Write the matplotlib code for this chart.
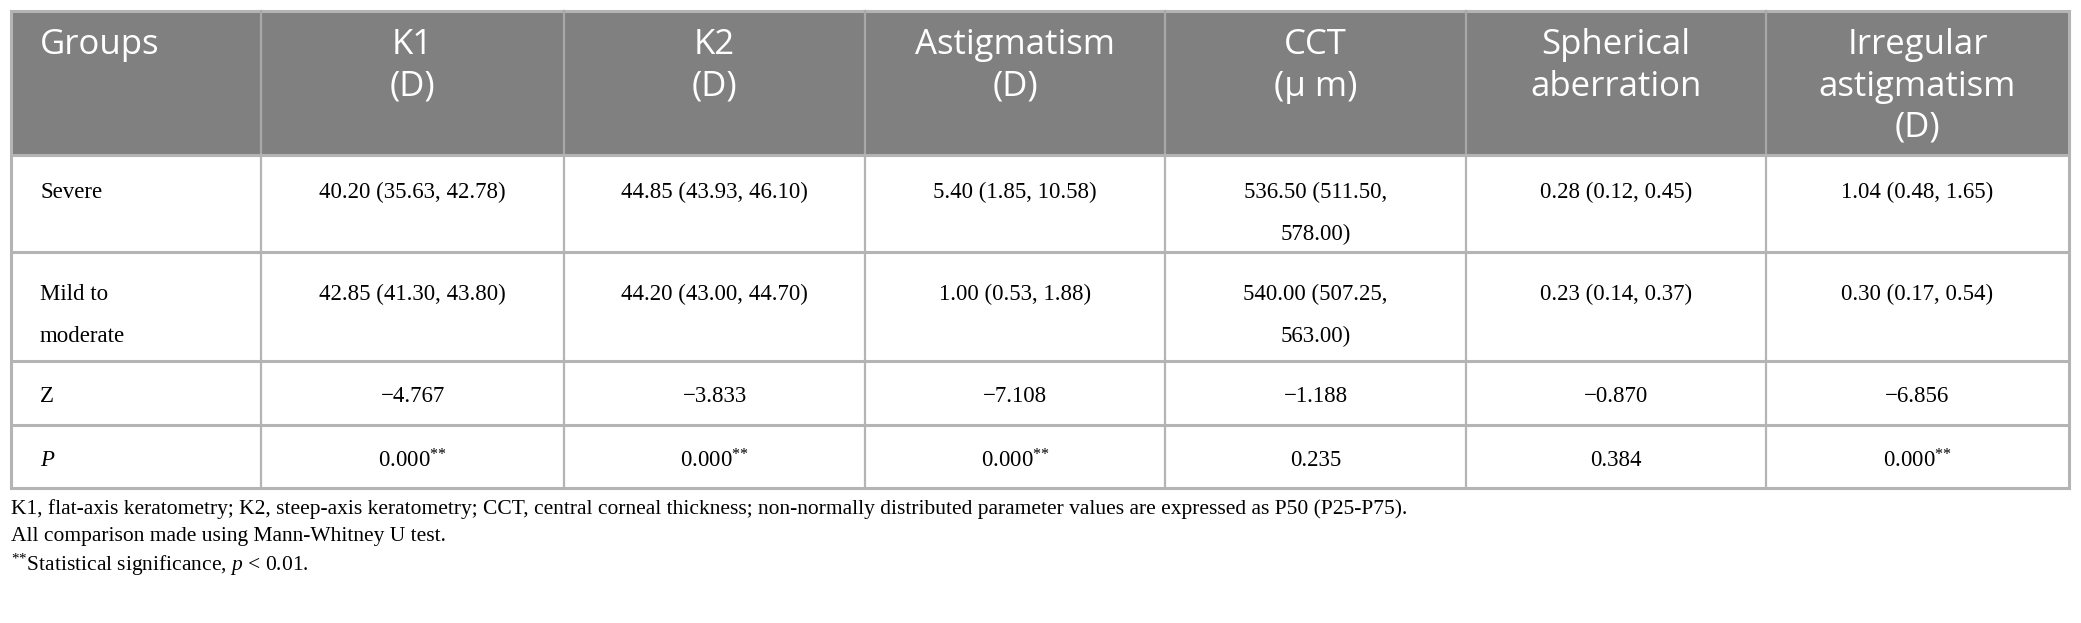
import matplotlib
matplotlib.use("Agg")
import matplotlib.pyplot as plt
from matplotlib.patches import Rectangle

plt.rcParams['mathtext.fontset'] = 'custom'
plt.rcParams['mathtext.rm'] = 'Liberation Serif'
plt.rcParams['mathtext.it'] = 'Liberation Serif:italic'

# table contents
headers = ["Groups", "K1\n(D)", "K2\n(D)", "Astigmatism\n(D)", "CCT\n(\u03bc m)",
           "Spherical\naberration", "Irregular\nastigmatism\n(D)"]
groups = ["Severe", "Mild to\nmoderate", "Z", "$P$"]
severe = ["40.20 (35.63, 42.78)", "44.85 (43.93, 46.10)", "5.40 (1.85, 10.58)",
          "536.50 (511.50,\n578.00)", "0.28 (0.12, 0.45)", "1.04 (0.48, 1.65)"]
mild = ["42.85 (41.30, 43.80)", "44.20 (43.00, 44.70)", "1.00 (0.53, 1.88)",
        "540.00 (507.25,\n563.00)", "0.23 (0.14, 0.37)", "0.30 (0.17, 0.54)"]
z_vals = ["\u22124.767", "\u22123.833", "\u22127.108", "\u22121.188", "\u22120.870", "\u22126.856"]
sig = "$^{{*}{*}}$"
p_vals = ["0.000" + sig, "0.000" + sig, "0.000" + sig, "0.235", "0.384", "0.000" + sig]
notes = ["K1, flat-axis keratometry; K2, steep-axis keratometry; CCT, central corneal thickness; "
         "non-normally distributed parameter values are expressed as P50 (P25-P75).",
         "All comparison made using Mann-Whitney U test.",
         sig + "Statistical significance, $p$ < 0.01."]

# layout in pixels
W, H = 2081, 623
col_x = [11, 261, 564, 865, 1165, 1466, 1766, 2069]
row_y = [11, 155, 252, 361, 425, 488]
row_off = [37, 42, 36, 36]
note_y = [509, 537, 565]
line_gap = 42

fig = plt.figure(figsize=(W / 100, H / 100), dpi=100)
ax = fig.add_axes([0, 0, 1, 1])
ax.set_xlim(0, W)
ax.set_ylim(H, 0)
ax.axis("off")

grid_c = "#b4b4b4"
ax.add_patch(Rectangle((col_x[0], row_y[0]), col_x[-1] - col_x[0], row_y[1] - row_y[0],
                       facecolor="#808080", edgecolor="none"))

# header
sans = ["Open Sans", "DejaVu Sans"]
for i, h in enumerate(headers):
    if i == 0:
        x, ha = col_x[0] + 29, "left"
    else:
        x, ha = (col_x[i] + col_x[i + 1]) / 2, "center"
    for k, part in enumerate(h.split("\n")):
        ax.text(x, row_y[0] + 34 + k * 41.5, part, ha=ha, va="center", color="white",
                family=sans, fontsize=25)

# body rows
rows = [severe, mild, z_vals, p_vals]
for r, vals in enumerate(rows):
    y0 = row_y[r + 1] + row_off[r]
    for k, part in enumerate(groups[r].split("\n")):
        ax.text(col_x[0] + 29, y0 + k * line_gap, part, ha="left", va="center",
                family="Liberation Serif", fontsize=16.5)
    for c, v in enumerate(vals):
        x = (col_x[c + 1] + col_x[c + 2]) / 2
        for k, part in enumerate(v.split("\n")):
            ax.text(x, y0 + k * line_gap, part, ha="center", va="center",
                    family="Liberation Serif", fontsize=16.5)

# grid lines
for y in row_y[1:-1]:
    ax.plot([col_x[0], col_x[-1]], [y, y], color=grid_c, lw=2.2, solid_capstyle="butt")
for x in col_x[1:-1]:
    ax.plot([x, x], [row_y[0], row_y[1]], color="#a8a8a8", lw=1.6)
    ax.plot([x, x], [row_y[1], row_y[-1]], color=grid_c, lw=1.6)
ax.add_patch(Rectangle((col_x[0], row_y[0]), col_x[-1] - col_x[0], row_y[-1] - row_y[0],
                       facecolor="none", edgecolor=grid_c, lw=2.2))

for n, y in zip(notes, note_y):
    ax.text(col_x[0], y, n, ha="left", va="center", family="Liberation Serif",
            fontsize=15.5)

fig.savefig("out.png", dpi=100)
